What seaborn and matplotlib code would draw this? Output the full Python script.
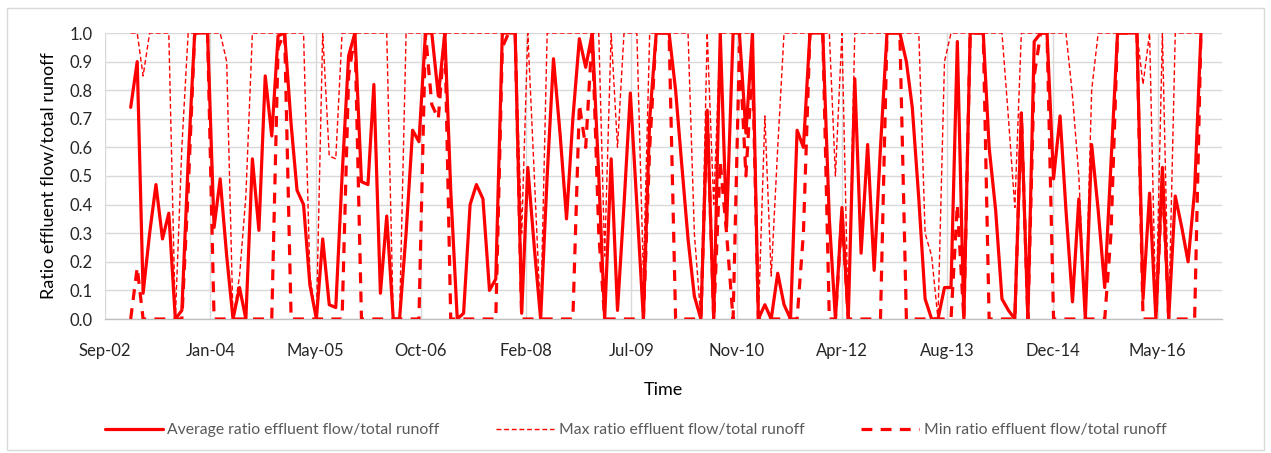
import numpy as np
import pandas as pd
import matplotlib
matplotlib.use("Agg")
import matplotlib.pyplot as plt
import matplotlib.dates as mdates
import matplotlib.ticker as mticker
from matplotlib.lines import Line2D
from matplotlib.patches import Rectangle
import seaborn as sns

# ---------------- data (monthly, Jan 2003 - Dec 2016) ----------------
first_month = "2003-01-01"

avg_ratio = [
    0.74, 0.90, 0.09, 0.30, 0.47, 0.28, 0.37, 0.00, 0.03, 0.55, 1.00, 1.00,
    1.00, 0.32, 0.49, 0.22, 0.00, 0.11, 0.00, 0.56, 0.31, 0.85, 0.64, 0.99,
    1.00, 0.68, 0.45, 0.40, 0.12, 0.00, 0.28, 0.05, 0.04, 0.50, 0.92, 1.00,
    0.48, 0.47, 0.82, 0.09, 0.36, 0.00, 0.00, 0.30, 0.66, 0.62, 1.00, 1.00,
    0.78, 1.00, 0.45, 0.00, 0.02, 0.40, 0.47, 0.42, 0.10, 0.14, 1.00, 1.00,
    1.00, 0.02, 0.53, 0.25, 0.00, 0.50, 0.91, 0.65, 0.35, 0.70, 0.98, 0.88,
    1.00, 0.50, 0.00, 0.56, 0.03, 0.40, 0.79, 0.40, 0.00, 0.70, 1.00, 1.00,
    1.00, 0.80, 0.55, 0.28, 0.08, 0.00, 0.73, 0.00, 1.00, 0.32, 1.00, 1.00,
    0.65, 1.00, 0.00, 0.05, 0.00, 0.16, 0.05, 0.00, 0.66, 0.60, 1.00, 1.00,
    1.00, 0.35, 0.00, 0.39, 0.00, 0.84, 0.23, 0.61, 0.17, 0.60, 1.00, 1.00,
    1.00, 0.90, 0.74, 0.42, 0.07, 0.00, 0.00, 0.11, 0.11, 0.97, 0.00, 1.00,
    1.00, 1.00, 0.60, 0.38, 0.07, 0.03, 0.00, 0.72, 0.00, 0.97, 1.00, 1.00,
    0.49, 0.71, 0.38, 0.06, 0.42, 0.00, 0.61, 0.38, 0.11, 0.55, 1.00, 1.00,
    1.00, 1.00, 0.07, 0.44, 0.00, 0.53, 0.00, 0.43, 0.32, 0.20, 0.45, 1.00,
]

max_ratio = [
    1.00, 1.00, 0.85, 1.00, 1.00, 1.00, 1.00, 0.00, 0.60, 1.00, 1.00, 1.00,
    1.00, 1.00, 1.00, 0.90, 0.00, 0.15, 0.43, 1.00, 1.00, 1.00, 1.00, 1.00,
    1.00, 1.00, 1.00, 1.00, 0.15, 0.00, 1.00, 0.57, 0.56, 1.00, 1.00, 1.00,
    1.00, 1.00, 1.00, 1.00, 1.00, 0.00, 0.00, 1.00, 1.00, 1.00, 1.00, 1.00,
    1.00, 1.00, 1.00, 1.00, 1.00, 1.00, 1.00, 1.00, 1.00, 1.00, 1.00, 1.00,
    1.00, 0.30, 1.00, 0.50, 0.00, 1.00, 1.00, 1.00, 1.00, 1.00, 1.00, 1.00,
    1.00, 1.00, 0.22, 1.00, 0.60, 1.00, 1.00, 1.00, 0.15, 1.00, 1.00, 1.00,
    1.00, 1.00, 1.00, 1.00, 0.30, 0.00, 1.00, 0.40, 1.00, 1.00, 1.00, 1.00,
    1.00, 1.00, 0.00, 0.71, 0.15, 0.60, 1.00, 1.00, 1.00, 1.00, 1.00, 1.00,
    1.00, 1.00, 0.50, 1.00, 0.00, 1.00, 1.00, 1.00, 1.00, 1.00, 1.00, 1.00,
    1.00, 1.00, 1.00, 1.00, 0.30, 0.22, 0.00, 0.90, 1.00, 1.00, 1.00, 1.00,
    1.00, 1.00, 1.00, 1.00, 1.00, 0.70, 0.39, 1.00, 1.00, 1.00, 1.00, 1.00,
    1.00, 1.00, 1.00, 0.78, 0.50, 0.00, 0.80, 1.00, 1.00, 1.00, 1.00, 1.00,
    1.00, 1.00, 0.82, 1.00, 0.00, 1.00, 0.00, 1.00, 1.00, 1.00, 1.00, 1.00,
]

min_ratio = [
    0.00, 0.18, 0.00, 0.00, 0.00, 0.00, 0.00, 0.00, 0.00, 0.45, 1.00, 1.00,
    1.00, 0.00, 0.00, 0.00, 0.00, 0.00, 0.00, 0.00, 0.00, 0.00, 0.00, 0.95,
    1.00, 0.00, 0.00, 0.00, 0.00, 0.00, 0.00, 0.00, 0.00, 0.00, 0.85, 1.00,
    0.00, 0.00, 0.00, 0.00, 0.00, 0.00, 0.00, 0.00, 0.00, 0.00, 1.00, 0.75,
    0.70, 1.00, 0.00, 0.00, 0.00, 0.00, 0.00, 0.00, 0.00, 0.00, 0.95, 1.00,
    1.00, 0.00, 0.00, 0.00, 0.00, 0.00, 0.00, 0.00, 0.00, 0.00, 0.75, 0.60,
    1.00, 0.30, 0.00, 0.00, 0.00, 0.00, 0.00, 0.00, 0.00, 0.60, 1.00, 1.00,
    1.00, 0.00, 0.00, 0.00, 0.00, 0.00, 0.73, 0.00, 0.55, 0.30, 0.00, 0.95,
    0.50, 0.90, 0.00, 0.00, 0.00, 0.00, 0.00, 0.00, 0.00, 0.30, 1.00, 1.00,
    1.00, 0.00, 0.00, 0.37, 0.00, 0.00, 0.00, 0.00, 0.00, 0.00, 1.00, 1.00,
    1.00, 0.00, 0.00, 0.00, 0.00, 0.00, 0.00, 0.00, 0.00, 0.40, 0.00, 1.00,
    1.00, 1.00, 0.00, 0.00, 0.00, 0.00, 0.00, 0.72, 0.00, 0.85, 1.00, 1.00,
    0.00, 0.00, 0.00, 0.00, 0.00, 0.00, 0.00, 0.00, 0.00, 0.30, 1.00, 1.00,
    1.00, 1.00, 0.00, 0.00, 0.00, 0.50, 0.00, 0.00, 0.00, 0.00, 0.00, 1.00,
]

series_labels = [
    "Average ratio effluent flow/total runoff",
    "Max ratio effluent flow/total runoff",
    "Min ratio effluent flow/total runoff",
]
x_title = "Time"
y_title = "Ratio effluent flow/total runoff"
axis_start = "2002-09-01"   # first date tick
tick_step_days = 500
n_ticks = 11
axis_end = "2017-03-11"

dates = pd.date_range(first_month, periods=len(avg_ratio), freq="MS")
df = pd.DataFrame({"date": dates, "avg": avg_ratio, "max": max_ratio, "min": min_ratio})
tick_dates = pd.date_range(axis_start, periods=n_ticks, freq=f"{tick_step_days}D")

# ---------------- styling ----------------
sns.set_theme(style="white")
plt.rcParams["font.family"] = ["Lato", "DejaVu Sans"]
RED = "#FF0000"
GRID = "#D9D9D9"

W, H = 1271, 453
fig = plt.figure(figsize=(W / 100, H / 100), dpi=100)
ax = fig.add_axes([105 / W, 1 - 319 / H, (1222 - 105) / W, (319 - 33) / H])

sns.lineplot(data=df, x="date", y="avg", ax=ax, color=RED, linewidth=2.3,
             solid_joinstyle="round", solid_capstyle="round", zorder=3)
sns.lineplot(data=df, x="date", y="max", ax=ax, color=RED, linewidth=1.0,
             linestyle=(0, (3.5, 2.0)), zorder=4)
sns.lineplot(data=df, x="date", y="min", ax=ax, color=RED, linewidth=2.3,
             linestyle=(0, (3.4, 2.6)), zorder=5)

ax.set_xlim(pd.Timestamp(axis_start), pd.Timestamp(axis_end))
ax.set_ylim(0, 1.0)
ax.set_xticks(tick_dates)
ax.xaxis.set_major_formatter(mdates.DateFormatter("%b-%y"))
ax.set_yticks(np.round(np.arange(0, 1.01, 0.1), 1))
ax.yaxis.set_major_formatter(mticker.FormatStrFormatter("%.1f"))

ax.grid(True, color=GRID, linewidth=1.0, zorder=0)
ax.set_axisbelow(True)
for s in ["top", "right", "left"]:
    ax.spines[s].set_visible(False)
ax.spines["bottom"].set_color("#BFBFBF")
ax.spines["bottom"].set_linewidth(1.0)

ax.tick_params(axis="both", length=0, labelsize=12, labelcolor="#262626")
ax.tick_params(axis="x", pad=17)
ax.tick_params(axis="y", pad=9)

ax.set_xlabel(x_title, fontsize=13, color="#000000", labelpad=17)
ax.set_ylabel(y_title, fontsize=13, color="#000000", labelpad=9)

handles = [
    Line2D([], [], color=RED, linewidth=2.3),
    Line2D([], [], color=RED, linewidth=1.0, linestyle=(0, (3.5, 2.0))),
    Line2D([], [], color=RED, linewidth=2.3, linestyle=(0, (3.4, 2.6))),
]
fig.legend(handles, series_labels, loc="center", bbox_to_anchor=(0.5, 1 - 430 / H),
           ncol=3, frameon=False, fontsize=11.3, labelcolor="#595959",
           handlelength=3.7, handletextpad=0.3, columnspacing=3.6)

fig.add_artist(Rectangle((7 / W, 3 / H), (1264 - 7) / W, (445 - 3) / H,
                         transform=fig.transFigure, fill=False,
                         edgecolor="#D9D9D9", linewidth=1.0))

fig.savefig("out.png", dpi=100)
